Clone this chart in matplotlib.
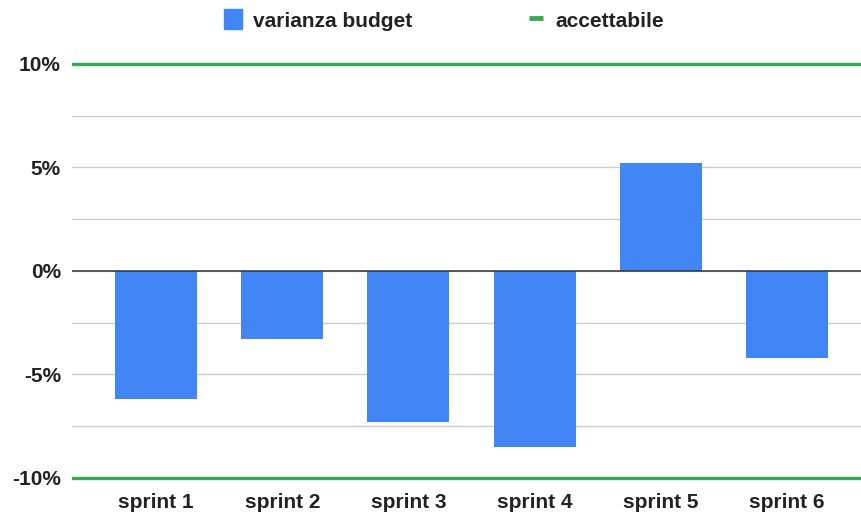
import matplotlib.pyplot as plt
from matplotlib.patches import Patch
from matplotlib.lines import Line2D

plt.rcParams['font.family'] = ['Liberation Sans', 'DejaVu Sans']

sprints = ["sprint 1", "sprint 2", "sprint 3", "sprint 4", "sprint 5", "sprint 6"]
varianza = [-6.2, -3.3, -7.3, -8.5, 5.2, -4.2]
soglie = [10, -10]  # accettabile

blu = "#4285f4"
verde = "#34a853"

fig = plt.figure(figsize=(8.62, 5.16), dpi=100)
# 10% at y=64px, -10% at y=478px, margin 0.2 units each side
ax = fig.add_axes([72/862, (516 - 482.1)/516, 1 - 72/862, 422.3/516])

x = range(len(sprints))
ax.bar(x, varianza, width=0.65, color=blu, zorder=3)

for s in soglie:
    ax.axhline(s, color=verde, lw=2.4, zorder=4)
ax.axhline(0, color="#333333", lw=1.1, zorder=4)

ax.set_ylim(-10.2, 10.2)
ax.set_xlim(-0.667, 5.595)
ax.set_yticks([-10, -7.5, -5, -2.5, 0, 2.5, 5, 7.5, 10])
ax.set_yticklabels(["-10%", "", "-5%", "", "0%", "", "5%", "", "10%"])
ax.set_xticks(list(x))
ax.set_xticklabels(sprints)
ax.grid(axis="y", color="#cccccc", lw=1, zorder=0)
ax.tick_params(length=0, labelsize=15, colors="#222222")
ax.tick_params(axis="y", pad=8)
ax.tick_params(axis="x", pad=8)
for lab in ax.get_xticklabels() + ax.get_yticklabels():
    lab.set_fontweight("bold")
for sp in ax.spines.values():
    sp.set_visible(False)

handles = [Patch(color=blu),
           Line2D([], [], color=verde, ls="none", marker="_", markersize=10, mew=3.5)]
fig.legend(handles, ["varianza budget", "accettabile"], loc="center",
           bbox_to_anchor=(0.515, 1 - 20/516), ncol=2, frameon=False,
           prop={"size": 15, "weight": "bold"}, labelcolor="#222222",
           handlelength=0.9, handleheight=1.1, handletextpad=0.5, columnspacing=5.5)

fig.savefig("out.png", dpi=100)
